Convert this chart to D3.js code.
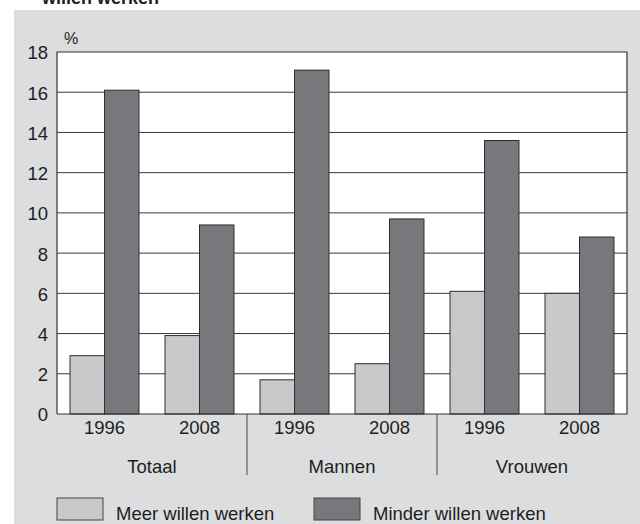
<!DOCTYPE html>
<html>
<head>
<meta charset="utf-8">
<script src="https://cdn.jsdelivr.net/npm/d3@7"></script>
<style>
  body { margin: 0; background: #fff; }
  svg { display: block; font-family: "Liberation Sans", Arial, sans-serif; }
</style>
</head>
<body>
<div id="chart"></div>
<script>

const groups = ["Totaal", "Mannen", "Vrouwen"];
const years = ["1996", "2008"];
const series = ["Meer willen werken", "Minder willen werken"];
// values per group/year slot, in the order Totaal 1996, Totaal 2008, Mannen 1996 ...
const meer = [2.9, 3.9, 1.7, 2.5, 6.1, 6.0];
const minder = [16.1, 9.4, 17.1, 9.7, 13.6, 8.8];
const yTicks = [0, 2, 4, 6, 8, 10, 12, 14, 16, 18];

const colors = {meer: "#c8c9cb", minder: "#77787c"};

const width = 640, height = 524;
const plot = {left: 57, right: 627, top: 52, bottom: 414};

const slots = [];
groups.forEach(function (g, gi) {
  years.forEach(function (y, yi) {
    const i = gi * years.length + yi;
    slots.push({key: g + "-" + y, group: g, year: y, meer: meer[i], minder: minder[i]});
  });
});

const svg = d3.select("#chart")
  .append("svg")
  .attr("width", width)
  .attr("height", height);

// grey panel
svg.append("rect")
  .attr("x", 14).attr("y", 10)
  .attr("width", width - 14).attr("height", height - 10)
  .attr("fill", "#dcdddf");

// cut off title line at the very top
svg.append("text")
  .attr("x", 42).attr("y", 4)
  .attr("font-size", 18).attr("font-weight", "bold")
  .attr("fill", "#1e1e1e")
  .text("willen werken");

const xScale = d3.scaleBand()
  .domain(slots.map(function (d) { return d.key; }))
  .range([plot.left, plot.right])
  .paddingInner(0.274)
  .paddingOuter(0.137);

const xSub = d3.scaleBand()
  .domain(["meer", "minder"])
  .range([0, xScale.bandwidth()]);

const yScale = d3.scaleLinear()
  .domain([0, 18])
  .range([plot.bottom, plot.top]);

// plot background
svg.append("rect")
  .attr("x", plot.left).attr("y", plot.top)
  .attr("width", plot.right - plot.left).attr("height", plot.bottom - plot.top)
  .attr("fill", "#fff");

// grid lines
svg.append("g")
  .selectAll("line")
  .data(yTicks.filter(function (t) { return t > 0 && t < 18; }))
  .enter()
  .append("line")
  .attr("x1", plot.left).attr("x2", plot.right)
  .attr("y1", function (d) { return yScale(d); })
  .attr("y2", function (d) { return yScale(d); })
  .attr("stroke", "#3a3a3a")
  .attr("stroke-width", 1);

// bars
const slot = svg.append("g")
  .selectAll("g")
  .data(slots)
  .enter()
  .append("g")
  .attr("transform", function (d) { return "translate(" + xScale(d.key) + ",0)"; });

slot.selectAll("rect")
  .data(function (d) { return ["meer", "minder"].map(function (k) { return {k: k, v: d[k]}; }); })
  .enter()
  .append("rect")
  .attr("x", function (d) { return xSub(d.k); })
  .attr("y", function (d) { return yScale(d.v); })
  .attr("width", xSub.bandwidth())
  .attr("height", function (d) { return yScale(0) - yScale(d.v); })
  .attr("fill", function (d) { return colors[d.k]; })
  .attr("stroke", "#2e2e2e")
  .attr("stroke-width", 1);

// frame: top, right, left and baseline
svg.append("path")
  .attr("d", "M" + plot.left + "," + plot.bottom + "V" + plot.top + "H" + plot.right + "V" + plot.bottom + "H" + plot.left)
  .attr("fill", "none")
  .attr("stroke", "#333")
  .attr("stroke-width", 1.2);

// y axis labels
const yAxis = d3.axisLeft(yScale)
  .tickValues(yTicks)
  .tickSize(0)
  .tickPadding(9);

const yg = svg.append("g")
  .attr("transform", "translate(" + plot.left + ",1)")
  .call(yAxis);
yg.select(".domain").remove();
yg.selectAll("text")
  .attr("font-size", 18.5)
  .attr("font-family", "Liberation Sans, Arial, sans-serif")
  .attr("fill", "#1e1e1e");

svg.append("text")
  .attr("x", 64).attr("y", 44)
  .attr("font-size", 16)
  .attr("fill", "#1e1e1e")
  .text("%");

// year labels
svg.append("g")
  .selectAll("text")
  .data(slots)
  .enter()
  .append("text")
  .attr("x", function (d) { return xScale(d.key) + xScale.bandwidth() / 2; })
  .attr("y", 434)
  .attr("text-anchor", "middle")
  .attr("font-size", 18.5)
  .attr("fill", "#1e1e1e")
  .text(function (d) { return d.year; });

// group labels and dividers
const groupCenter = function (g) {
  const ks = slots.filter(function (d) { return d.group === g; });
  const a = xScale(ks[0].key) - xScale.step() * xScale.paddingInner() / 2;
  const b = xScale(ks[ks.length - 1].key) + xScale.bandwidth() + xScale.step() * xScale.paddingInner() / 2;
  return {c: (a + b) / 2, a: a, b: b};
};

svg.append("g")
  .selectAll("text")
  .data(groups)
  .enter()
  .append("text")
  .attr("x", function (d) { return groupCenter(d).c; })
  .attr("y", 473)
  .attr("text-anchor", "middle")
  .attr("font-size", 18.5)
  .attr("fill", "#1e1e1e")
  .text(function (d) { return d; });

svg.append("g")
  .selectAll("line")
  .data(groups.slice(1))
  .enter()
  .append("line")
  .attr("x1", function (d) { return groupCenter(d).a; })
  .attr("x2", function (d) { return groupCenter(d).a; })
  .attr("y1", plot.bottom)
  .attr("y2", 475)
  .attr("stroke", "#444")
  .attr("stroke-width", 1);

// legend
const legendX = [57, 314];
const legend = svg.append("g")
  .selectAll("g")
  .data(series)
  .enter()
  .append("g")
  .attr("transform", function (d, i) { return "translate(" + legendX[i] + ",498)"; });

legend.append("rect")
  .attr("width", 46).attr("height", 22)
  .attr("fill", function (d, i) { return i === 0 ? colors.meer : colors.minder; })
  .attr("stroke", "#444")
  .attr("stroke-width", 1);

legend.append("text")
  .attr("x", 59).attr("y", 22)
  .attr("font-size", 18.5)
  .attr("fill", "#1e1e1e")
  .text(function (d) { return d; });

</script>
</body>
</html>
